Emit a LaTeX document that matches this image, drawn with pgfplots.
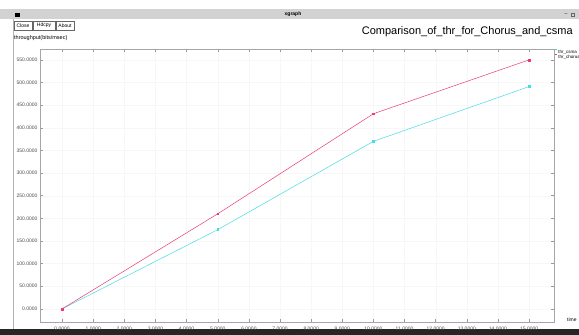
\documentclass[border=0pt]{standalone}
\usepackage{pgfplots}
\pgfplotsset{compat=1.18}
\usepackage{fontspec}
\setmainfont{Liberation Sans}
\definecolor{chorus}{RGB}{232,60,120}
\definecolor{csma}{RGB}{70,220,230}
\begin{document}
\begin{tikzpicture}[x=1pt,y=1pt]
\clip (0,0) rectangle (579,335);
\fill[white] (0,0) rectangle (579,335);
% title bar
\fill[gray!35] (0,316) rectangle (579,326);
\fill[black] (15,318) rectangle (20,322);
\node[font=\fontsize{5}{6}\selectfont\bfseries] at (293,321) {xgraph};
\node[font=\fontsize{5}{6}\selectfont] at (566,321) {\_};
\draw[black!60,line width=0.3pt] (571,319) rectangle (574,322);
% buttons
\foreach \a/\b/\t in {14/32/Close,33/55/Hdcpy,56/74/About}{
  \draw[gray!80!black,line width=0.4pt] (\a,305) rectangle (\b,314);
  \node[font=\fontsize{5}{6}\selectfont,inner sep=0pt] at ({(\a+\b)/2},309.5) {\t};
}
\draw[gray!60,line width=0.5pt] (13,6) -- (13,316);
\node[font=\fontsize{5.5}{6}\selectfont,anchor=west,inner sep=0pt] at (14,297) {throughput(bits/msec)};
\node[font=\fontsize{11}{12}\selectfont,anchor=east,inner sep=0pt] at (573,303) {Comparison\_of\_thr\_for\_Chorus\_and\_csma};
\node[font=\fontsize{5}{6}\selectfont,anchor=west,inner sep=0pt] at (567,15) {time};
% bottom bar
\fill[black!85] (0,0) rectangle (579,6);
\begin{axis}[
  at={(40pt,13pt)}, anchor=south west,
  scale only axis, width=514pt, height=273pt,
  xmin=-0.71, xmax=15.8, ymin=-29, ymax=574,
  xtick={0,1,...,15}, ytick={0,50,...,550},
  axis line style={gray!70,line width=0.4pt},
  tick style={gray!80,line width=0.4pt},
  tick align=inside, major tick length=3pt,
  xtick pos=both, ytick pos=both,
  xticklabel pos=lower, yticklabel pos=left,
  grid=major, major grid style={gray!6,line width=0.3pt},
  ticklabel style={font=\fontsize{5}{6}\selectfont,text=black!70},
  /pgf/number format/assume math mode=true,
  /pgf/number format/.cd, fixed, fixed zerofill, precision=4,
  /pgfplots/.cd,
  xticklabel style={yshift=-1pt},
  yticklabel style={xshift=1pt},
  legend style={at={(rel axis cs:1,1)}, anchor=north west, xshift=1pt, draw=none, fill=none,
    font=\fontsize{4.5}{5}\selectfont, row sep=-2pt, inner sep=0pt, nodes={inner sep=1pt}},
  legend cell align=left,
  legend image code/.code={\draw[#1] (0cm,0.12cm) -- (0.06cm,0.12cm);},
]
\addplot[csma, line width=0.5pt, mark=square*, mark size=0.9pt] coordinates {(0,0) (5,175) (10,370) (15,491)};
\addlegendentry{thr\_csma}
\addplot[chorus, line width=0.5pt, mark=square*, mark size=0.9pt] coordinates {(0,0) (5,210) (10,431) (15,550)};
\addlegendentry{thr\_chorus}
\end{axis}
\end{tikzpicture}
\end{document}
